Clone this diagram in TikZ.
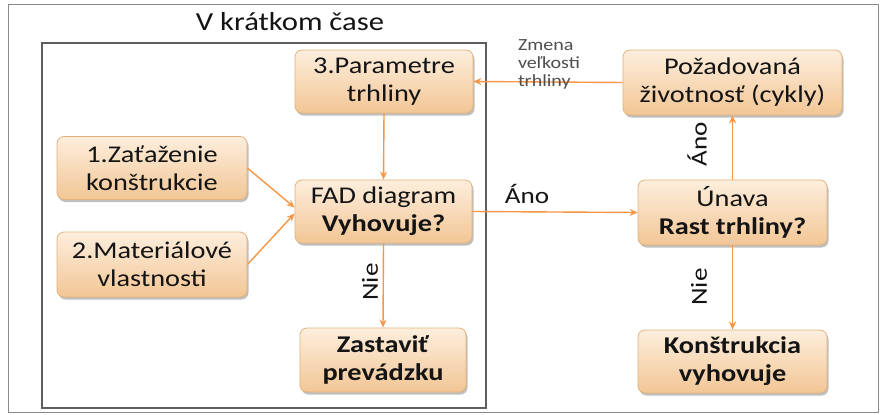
\documentclass[tikz,border=0pt]{standalone}
\usepackage{fontspec}
\setmainfont[FakeStretch=1.18]{Carlito}
\usetikzlibrary{arrows.meta,shadows,calc}
\definecolor{arr}{HTML}{F79646}
\definecolor{boxtop}{HTML}{FDEEDD}
\definecolor{boxbot}{HTML}{F2C695}
\definecolor{boxborder}{HTML}{E2B27C}
\definecolor{txt}{HTML}{141414}
\definecolor{framegray}{HTML}{8A8A8A}
\definecolor{innergray}{HTML}{5E5E5E}
\tikzset{
  box/.style={draw=boxborder, line width=0.8pt, rounded corners=7pt,
    top color=boxtop, bottom color=boxbot, align=center, text=txt,
    font=\fontsize{24}{28}\selectfont, inner sep=0pt,
    drop shadow={shadow xshift=1.5pt, shadow yshift=-2.5pt, opacity=0.25, fill=black}},
  link/.style={draw=arr, line width=1.4pt, -{Stealth[length=8pt,width=7pt]}},
  lbl/.style={text=txt, font=\fontsize{23}{27}\selectfont, inner sep=0pt},
}
\begin{document}
\begin{tikzpicture}[x=1pt,y=-1pt]
\useasboundingbox (0,0) rectangle (881,415);
\fill[white] (0,0) rectangle (881,415);
\draw[framegray, line width=1pt] (8,4) rectangle (878,412);
\draw[innergray, line width=1.8pt] (42,43) rectangle (486,408);
\node[lbl, font=\fontsize{26}{30}\selectfont] (title) at (290,22) {V krátkom čase};

\node[box, minimum width=178pt, minimum height=63pt] (param) at (384,81.5) {3.Parametre\\trhliny};
\node[box, minimum width=190pt, minimum height=63pt] (b1) at (152,168) {1.Zaťaženie\\konštrukcie};
\node[box, minimum width=190pt, minimum height=65pt] (b2) at (152,264.5) {2.Materiálové\\vlastnosti};
\node[box, minimum width=177pt, minimum height=63pt] (fad) at (383.5,211.5) {FAD diagram\\\textbf{Vyhovuje?}};
\node[box, minimum width=166pt, minimum height=64pt] (stop) at (383,360) {\textbf{Zastaviť}\\\textbf{prevádzku}};
\node[box, minimum width=219pt, minimum height=65pt] (poz) at (732.5,82.5) {Požadovaná\\životnosť (cykly)};
\node[box, minimum width=189pt, minimum height=65pt] (unava) at (732.5,212.5) {Únava\\\textbf{Rast trhliny?}};
\node[box, minimum width=189pt, minimum height=63pt] (kon) at (732.5,361.5) {\textbf{Konštrukcia}\\\textbf{vyhovuje}};

\draw[link] (poz.west) -- (param.east);
\draw[link] (param.south) -- (fad.north);
\draw[link] (b1.east) -- ([yshift=4pt]fad.west);
\draw[link] (b2.east) -- ([yshift=-2pt]fad.west);
\draw[link] (fad.east) -- (unava.west);
\draw[link] (fad.south) -- (stop.north);
\draw[link] (unava.north) -- (poz.south);
\draw[link] (unava.south) -- (kon.north);

\node[text=txt!75, font=\fontsize{17}{18}\selectfont, align=left, inner sep=0pt] (zmena) at (549,64) {Zmena\\veľkosti\\trhliny};
\node[lbl] (ano1) at (527,194) {Áno};
\node[lbl, rotate=90] (nie1) at (370,282) {Nie};
\node[lbl, rotate=90] (ano2) at (697,144) {Áno};
\node[lbl, rotate=90] (nie2) at (699,287) {Nie};
\end{tikzpicture}
\end{document}
